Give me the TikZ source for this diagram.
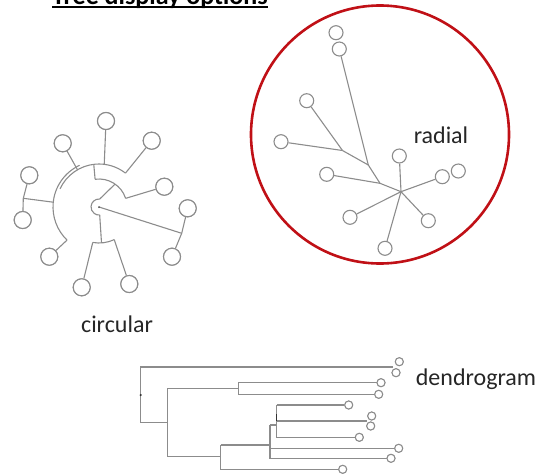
\documentclass[tikz,border=0pt]{standalone}
\usepackage{fontspec}
\setmainfont{Carlito}
\usetikzlibrary{calc}
\definecolor{treegray}{RGB}{140,140,140}
\definecolor{ringred}{RGB}{192,16,22}
\begin{document}
\begin{tikzpicture}[x=1pt,y=-1pt,
  br/.style={draw=treegray,line width=1.1pt},
  cbig/.style={circle,draw=treegray,fill=white,line width=1.1pt,minimum size=17pt,inner sep=0pt},
  crad/.style={circle,draw=treegray,fill=white,line width=1.1pt,minimum size=14pt,inner sep=0pt},
  cden/.style={circle,draw=treegray,fill=white,line width=1pt,minimum size=8pt,inner sep=0pt},
  lbl/.style={font=\fontsize{24}{28}\selectfont,text=black!85,inner sep=0pt}]
\useasboundingbox (0,0) rectangle (548,474);
% ---------- title ----------
\node[anchor=base west,inner sep=0pt,font=\bfseries\fontsize{26}{30}\selectfont] (title) at (52,4.5) {Tree display options};
\draw[line width=1.6pt] (title.base west)++(0,2.6) coordinate (ul1) -- ($(title.base east)+(0,2.6)$) coordinate (ul2);
% ---------- circular tree ----------
\coordinate (C) at (99,207);
\node[cbig] (cTop) at (106,121) {};
\node[cbig] (cUR) at (151.7,140.7) {};
\node[cbig] (cUL) at (62.7,143.3) {};
\node[cbig] (cLU) at (29.3,175.3) {};
\node[cbig] (cRM) at (164.3,186.7) {};
\node[cbig] (cLL) at (22.7,220) {};
\node[cbig] (cFR) at (187.7,208.3) {};
\node[cbig] (cLo) at (49.3,256.7) {};
\node[cbig] (cRL) at (172,256.7) {};
\node[cbig] (cBL) at (81.7,287.3) {};
\node[cbig] (cBR) at (129.3,284) {};
\coordinate (jA) at (181.7,233.3);
\coordinate (jL) at (23.3,198.3);
\begin{scope}[on background layer/.style={}]
\draw[br] (C) -- (jA);
\draw[br] (cFR) -- (jA) -- (cRL);
% inner arc
\draw[br] ($(C)+(275:8)$) arc[start angle=275,end angle=85,radius=8];
% lower arc
\draw[br] ($(C)+(85:8)$) -- ($(C)+(86:36)$);
\draw[br] ($(C)+(100:36)$) arc[start angle=100,end angle=65,radius=36];
\draw[br] ($(C)+(100:36)$) -- (cBL);
\draw[br] ($(C)+(65:36)$) -- (cBR);
% mid arc
\draw[br] ($(C)+(275:8)$) -- ($(C)+(305:28)$);
\draw[br] ($(C)+(262:28)$) arc[start angle=262,end angle=342,radius=28];
\draw[br] ($(C)+(342:28)$) -- (cRM);
\draw[br] ($(C)+(262:28)$) -- ($(C)+(263:43)$);
% outer arc
\draw[br] ($(C)+(205:43)$) arc[start angle=205,end angle=308,radius=43];
\draw[br] ($(C)+(277:43)$) -- (cTop);
\draw[br] ($(C)+(308:43)$) -- (cUR);
\draw[br] ($(C)+(240:43)$) -- (cUL);
% big left arc
\draw[br] ($(C)+(245:46)$) arc[start angle=245,end angle=134,radius=46];
\draw[br] ($(C)+(186:46)$) -- (jL);
\draw[br] (cLU) -- (jL) -- (cLL);
\draw[br] ($(C)+(134:46)$) -- (cLo);
\end{scope}
\fill[black!70] (C) circle (1pt);
\foreach \n in {cTop,cUR,cUL,cLU,cRM,cLL,cFR,cLo,cRL,cBL,cBR}
  \node[cbig] at (\n) {};
\node[lbl,anchor=center] (tcirc) at (117,324) {circular};
% ---------- radial tree ----------
\draw[ringred,line width=2.6pt] (380,134.5) circle (129);
\coordinate (D) at (342.5,150.5);
\coordinate (B) at (368.3,165);
\coordinate (A) at (380,183.3);
\coordinate (H) at (401,191.7);
\node[crad] (r1) at (336,32.7) {};
\node[crad] (r2) at (339.3,49) {};
\node[crad] (r3) at (306.7,100.7) {};
\node[crad] (r4) at (281,141.7) {};
\node[crad] (r5) at (326.7,174.3) {};
\node[crad] (r6) at (350,217.3) {};
\node[crad] (r7) at (385,248.3) {};
\node[crad] (r8) at (428.3,220.7) {};
\node[crad] (r9) at (399.3,156) {};
\node[crad] (r11) at (458.3,171) {};
\node[crad] (r10) at (442.3,176.7) {};
\draw[br] (r3) -- (D);
\draw[br] (r4) -- (D);
\draw[br] (D) -- (B) -- (A) -- (H);
\draw[br] (r2) -- (B);
\draw[br] (r5) -- (A);
\draw[br] (H) -- (r9);
\draw[br] (H) -- (r10);
\draw[br] (H) -- (r8);
\draw[br] (H) -- (r7);
\draw[br] (H) -- (r6);
\node[lbl] (trad) at (441,135) {radial};
% ---------- dendrogram ----------
\node[cden] (L1) at (399.3,361.7) {};
\node[cden] (L2) at (396,372.7) {};
\node[cden] (L3) at (381,382.7) {};
\node[cden] (L4) at (378.7,394.3) {};
\node[cden] (L5) at (348.7,405) {};
\node[cden] (L6) at (371.7,416) {};
\node[cden] (L7) at (370.7,426) {};
\node[cden] (L8) at (359.3,437.3) {};
\node[cden] (L9) at (398.7,448.3) {};
\node[cden] (L10) at (391,458.3) {};
\node[cden] (L11) at (342.7,469.3) {};
\coordinate (p12) at (393.3,367);
\coordinate (p67) at (366.8,421);
\draw[br] (p12) -| (140.7,422.7) -- (167.7,422.7);
\draw[br] (167.7,388.3) -- (167.7,456.7);
\draw[br] (167.7,388.3) -- (238.3,388.3);
\draw[br] (238.3,382.7) -- (238.3,394.3);
\draw[br] (238.3,382.7) -- (L3.west);
\draw[br] (238.3,394.3) -- (L4.west);
\draw[br] (167.7,456.7) -- (220.7,456.7);
\draw[br] (220.7,445) -- (220.7,469.3) -- (L11.west);
\draw[br] (220.7,445) -- (270,445);
\draw[br] (270,425) -- (270,458.3) -- (L10.west);
\draw[br] (270,448.3) -- (L9.west);
\draw[br] (270,425) -- (276.7,425);
\draw[br] (276.7,405) -- (276.7,437.3) -- (L8.west);
\draw[br] (276.7,405) -- (L5.west);
\draw[br] (276.7,421) -- (p67);
\draw[black!80,line width=1.3pt] (276.7,414) -- (276.7,421);
\fill[black!80] (140.7,395) circle (1.2pt);
\foreach \n in {L1,L2,L3,L4,L5,L6,L7,L8,L9,L10,L11}
  \node[cden] at (\n) {};
\node[lbl] (tden) at (476,379) {dendrogram};
\end{tikzpicture}
\end{document}
